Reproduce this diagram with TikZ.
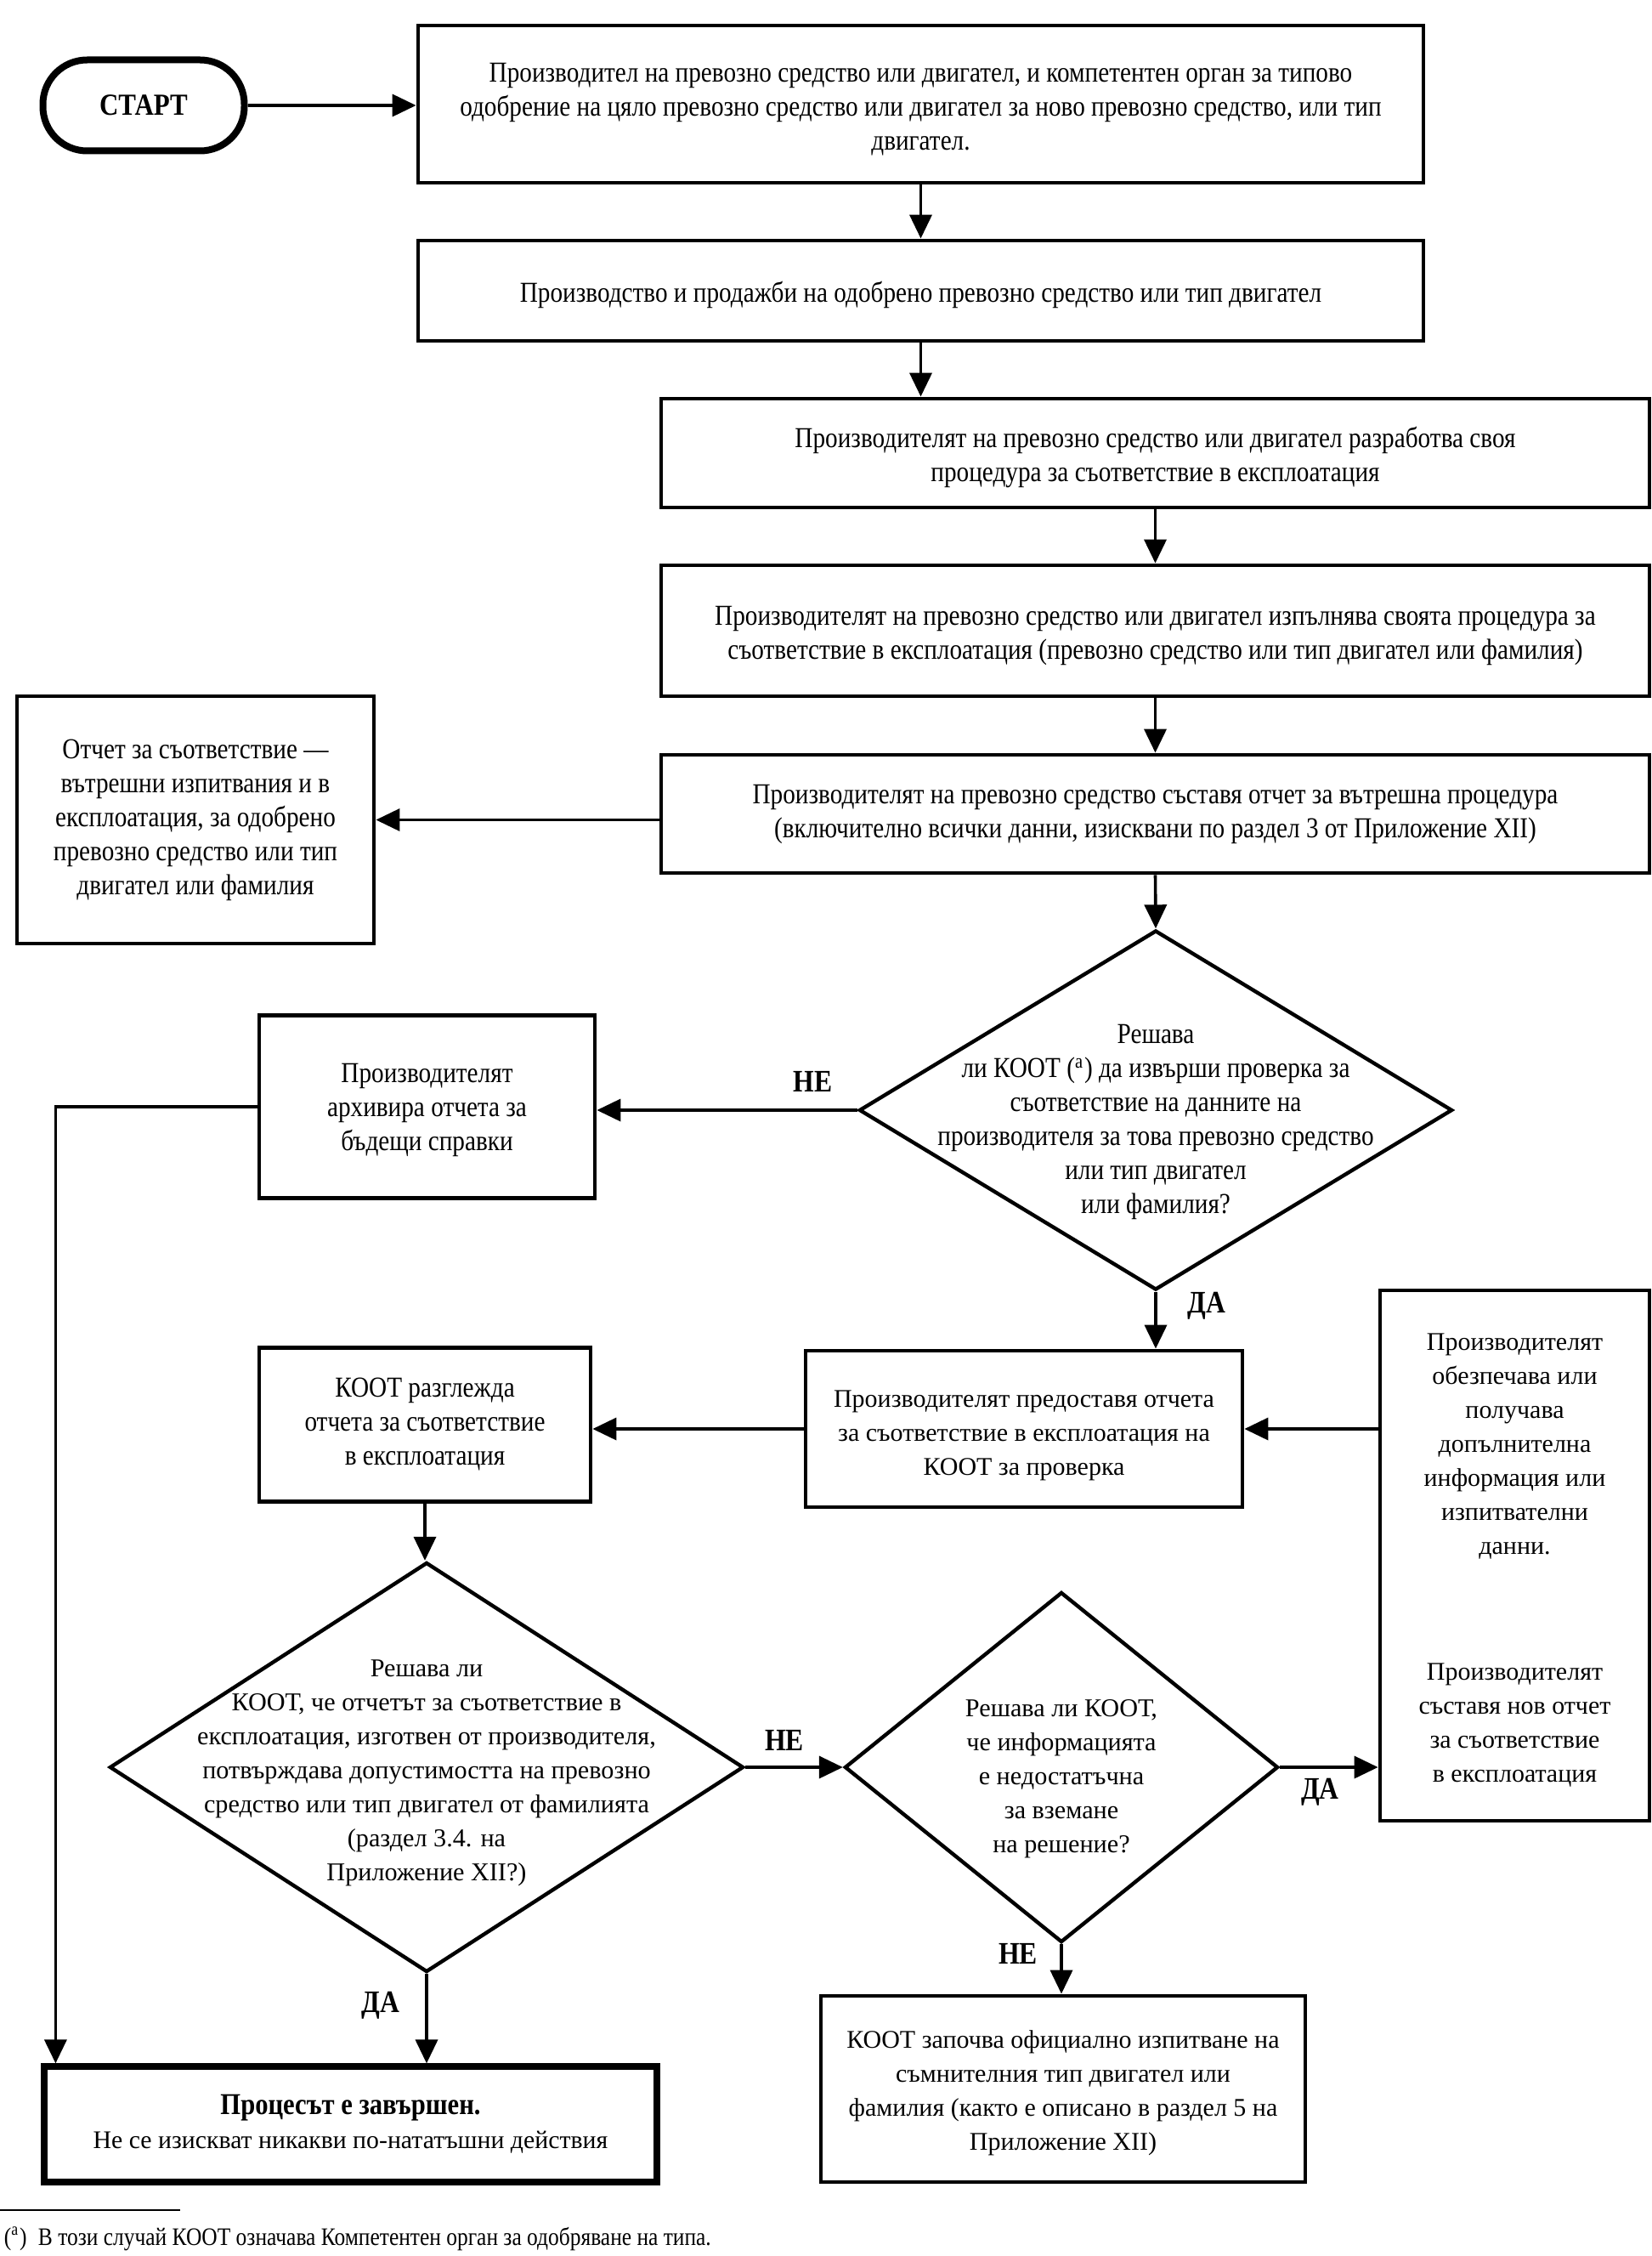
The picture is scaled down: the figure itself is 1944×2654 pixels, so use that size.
\documentclass[tikz,border=0pt]{standalone}
\usepackage{fontspec}
\setmainfont{Liberation Serif}
\newfontfamily\cfont[FakeStretch=0.86]{Liberation Serif}
\newfontfamily\wfont{Liberation Serif}
\newcommand\lift[1]{\rule{0pt}{#1}}
\usetikzlibrary{arrows.meta,shapes.geometric,calc}
\tikzset{
  box/.style={draw, line width=1.2pt, rectangle, inner sep=0pt, align=center, font={\cfont\fontsize{8.5}{10}\selectfont}},
  wbox/.style={box, font={\wfont\fontsize{7.5}{10}\selectfont}},
  dia/.style={draw, line width=1.1pt, diamond, inner sep=0pt},
  dtext/.style={align=center, font={\cfont\fontsize{8.5}{10}\selectfont}},
  wdtext/.style={align=center, font={\wfont\fontsize{7.55}{10}\selectfont}},
  arr/.style={line width=0.9pt, -{Triangle[length=7pt,width=6.5pt]}},
  lbl/.style={font={\cfont\bfseries\fontsize{9.2}{10}\selectfont}, inner sep=0pt},
}
\begin{document}
\begin{tikzpicture}[x=0.25pt, y=-0.25pt]
\useasboundingbox (0,0) rectangle (1944,2654);
\node[draw, line width=2pt, rounded corners=13pt, minimum width=237*0.25pt, minimum height=107*0.25pt, inner sep=0pt, font={\cfont\bfseries\fontsize{9}{10}\selectfont}] (start) at (169,124) {СТАРТ};
\node[box, minimum width=1183*0.25pt, minimum height=185*0.25pt] (b1) at (1083.5,122.5) {\lift{8.6pt}Производител на превозно средство или двигател, и компетентен орган за типово\\одобрение на цяло превозно средство или двигател за ново превозно средство, или тип\\двигател.};
\node[box, minimum width=1183*0.25pt, minimum height=118*0.25pt] (b2) at (1083.5,342) {\lift{8.6pt}Производство и продажби на одобрено превозно средство или тип двигател};
\node[box, minimum width=1163*0.25pt, minimum height=128*0.25pt] (b3) at (1359.5,533) {\lift{8.6pt}Производителят на превозно средство или двигател разработва своя\\процедура за съответствие в експлоатация};
\node[box, minimum width=1163*0.25pt, minimum height=154*0.25pt] (b4) at (1359.5,742) {\lift{8.6pt}Производителят на превозно средство или двигател изпълнява своята процедура за\\съответствие в експлоатация (превозно средство или тип двигател или фамилия)};
\node[box, minimum width=1163*0.25pt, minimum height=139*0.25pt] (b5) at (1359.5,957.5) {Производителят на превозно средство съставя отчет за вътрешна процедура\\(включително всички данни, изисквани по раздел 3 от Приложение XII)};
\node[box, minimum width=420*0.25pt, minimum height=291*0.25pt] (rep) at (230,964.5) {Отчет за съответствие —\\вътрешни изпитвания и в\\експлоатация, за одобрено\\превозно средство или тип\\двигател или фамилия};
\node[dia, minimum width=698*0.25pt, minimum height=423*0.25pt, label={[dtext, yshift=-3.6pt]center:Решава\\ли КООТ (\textsuperscript{a}) да извърши проверка за\\съответствие на данните на\\производителя за това превозно средство\\или тип двигател\\или фамилия?}] (d1) at (1360,1306) {};
\node[box, minimum width=395*0.25pt, minimum height=215*0.25pt] (arch) at (502.5,1302) {\lift{7.8pt}Производителят\\архивира отчета за\\бъдещи справки};
\node[wbox, minimum width=514*0.25pt, minimum height=184*0.25pt] (b6) at (1205,1681) {\lift{8.6pt}Производителят предоставя отчета\\за съответствие в експлоатация на\\КООТ за проверка};
\node[box, minimum width=390*0.25pt, minimum height=181*0.25pt] (rev) at (500,1676) {КООТ разглежда\\отчета за съответствие\\в експлоатация};
\node[wbox, minimum width=317*0.25pt, minimum height=624*0.25pt] (rt) at (1782.5,1830) {\lift{7.8pt}Производителят\\обезпечава или\\получава\\допълнителна\\информация или\\изпитвателни\\данни.\\[27pt]Производителят\\съставя нов отчет\\за съответствие\\в експлоатация};
\node[dia, minimum width=746*0.25pt, minimum height=482*0.25pt, label={[wdtext, yshift=-1.6pt]center:Решава ли\\КООТ, че отчетът за съответствие в\\експлоатация, изготвен от производителя,\\потвърждава допустимостта на превозно\\средство или тип двигател от фамилията\\(раздел 3.4. на\\Приложение XII?)}] (d2) at (502,2079) {};
\node[dia, minimum width=510*0.25pt, minimum height=412*0.25pt, label={[wdtext, yshift=-3.5pt]center:Решава ли КООТ,\\че информацията\\е недостатъчна\\за вземане\\на решение?}] (d3) at (1249,2079) {};
\node[wbox, minimum width=570*0.25pt, minimum height=219*0.25pt] (ks) at (1251,2457.5) {\lift{7.6pt}КООТ започва официално изпитване на\\съмнителния тип двигател или\\фамилия (както е описано в раздел 5 на\\Приложение XII)};
\node[wbox, line width=1.8pt, font={\wfont\fontsize{7.45}{10}\selectfont}, minimum width=721*0.25pt, minimum height=136*0.25pt] (fin) at (412.5,2499) {{\cfont\fontsize{8.9}{10}\selectfont\bfseries Процесът е завършен.}\\Не се изискват никакви по-нататъшни действия};
% connectors
\draw[arr] (start.east) -- (start.east -| b1.west);
\draw[arr] (b1.south) -- (b1.south |- b2.north);
\draw[arr] (b2.south) -- (b2.south |- b3.north);
\draw[arr] (b3.south) -- (b4.north);
\draw[arr] (b4.south) -- (b5.north);
\draw[arr] (b5.west |- rep.east) -- (rep.east);
\draw[arr] (b5.south) -- (d1.north);
\draw[arr] (d1.west) -- node[lbl, pos=0.17, yshift=8.5pt]{НЕ} (d1.west -| arch.east);
\draw[arr] (arch.west) -| ($(fin.north west)+(17,0)$);
\draw[arr] (d1.south) -- node[lbl, pos=0.25, xshift=15pt]{ДА} (d1.south |- b6.north);
\draw[arr] (b6.west) -- (b6.west -| rev.east);
\draw[arr] (rt.west |- b6.east) -- (b6.east);
\draw[arr] (rev.south) -- (rev.south |- d2.north);
\draw[arr] (d2.east) -- node[lbl, pos=0.4, yshift=8pt]{НЕ} (d3.west);
\draw[arr] (d3.east) -- node[lbl, pos=0.41, yshift=-7.25pt]{ДА} (d3.east -| rt.west);
\draw[arr] (d3.south) -- node[lbl, pos=0.2, xshift=-12.75pt]{НЕ} (d3.south |- ks.north);
\draw[arr] (d2.south) -- node[lbl, pos=0.35, xshift=-13.5pt]{ДА} (d2.south |- fin.north);
% footnote
\draw[line width=0.6pt] (0,2600) coordinate (fl) -- (212,2600) coordinate (fr);
\node[anchor=west, inner sep=0pt, font={\cfont\fontsize{7.4}{9}\selectfont}] (fn) at (4,2634) {(\textsuperscript{a})\hspace{0.45em}В този случай КООТ означава Компетентен орган за одобряване на типа.};
\end{tikzpicture}
\end{document}
